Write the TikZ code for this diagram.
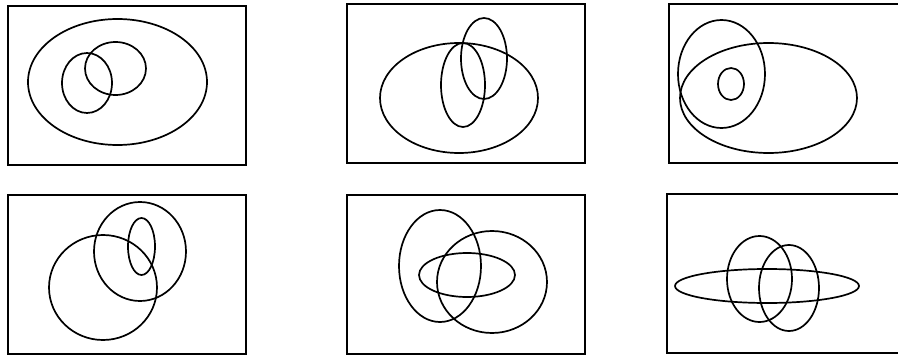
\documentclass[tikz,border=0pt]{standalone}
\begin{document}
\begin{tikzpicture}[x=1pt,y=-1pt,
  frame/.style={draw=black,line width=2pt},
  venn/.style={draw=black,line width=1.7pt}]
\useasboundingbox (0,0) rectangle (898,356);
% panel 1
\draw[frame] (8,6) rectangle (246,165);
\draw[venn] (117.5,82) ellipse [x radius=89.5,y radius=63];
\draw[venn] (87,83) ellipse [x radius=25,y radius=30];
\draw[venn] (115.5,68.5) ellipse [x radius=30.5,y radius=26.5];
% panel 2
\draw[frame] (347,4) rectangle (585,163);
\draw[venn] (459,98) ellipse [x radius=79,y radius=55];
\draw[venn] (463,85) ellipse [x radius=22,y radius=42];
\draw[venn] (484,58.5) ellipse [x radius=23,y radius=40.5];
% panel 3
\draw[frame] (669,4) rectangle (902,163);
\draw[venn] (768.5,98) ellipse [x radius=88.5,y radius=55];
\draw[venn] (721.5,74) ellipse [x radius=43.5,y radius=54];
\draw[venn] (731,84) ellipse [x radius=13,y radius=16];
% panel 4
\draw[frame] (8,195) rectangle (246,354);
\draw[venn] (103,287.5) ellipse [x radius=54,y radius=52.5];
\draw[venn] (140,251.5) ellipse [x radius=46,y radius=49.5];
\draw[venn] (141.5,246.5) ellipse [x radius=13.5,y radius=28.5];
% panel 5
\draw[frame] (347,195) rectangle (585,354);
\draw[venn] (440,266) ellipse [x radius=41,y radius=56];
\draw[venn] (492,282) ellipse [x radius=55,y radius=51];
\draw[venn] (467,275) ellipse [x radius=48,y radius=22];
% panel 6
\draw[frame] (667,194) rectangle (902,353);
\draw[venn] (767,286) ellipse [x radius=92,y radius=17];
\draw[venn] (759.5,279) ellipse [x radius=32.5,y radius=43];
\draw[venn] (789,288) ellipse [x radius=30,y radius=43];
\end{tikzpicture}
\end{document}
